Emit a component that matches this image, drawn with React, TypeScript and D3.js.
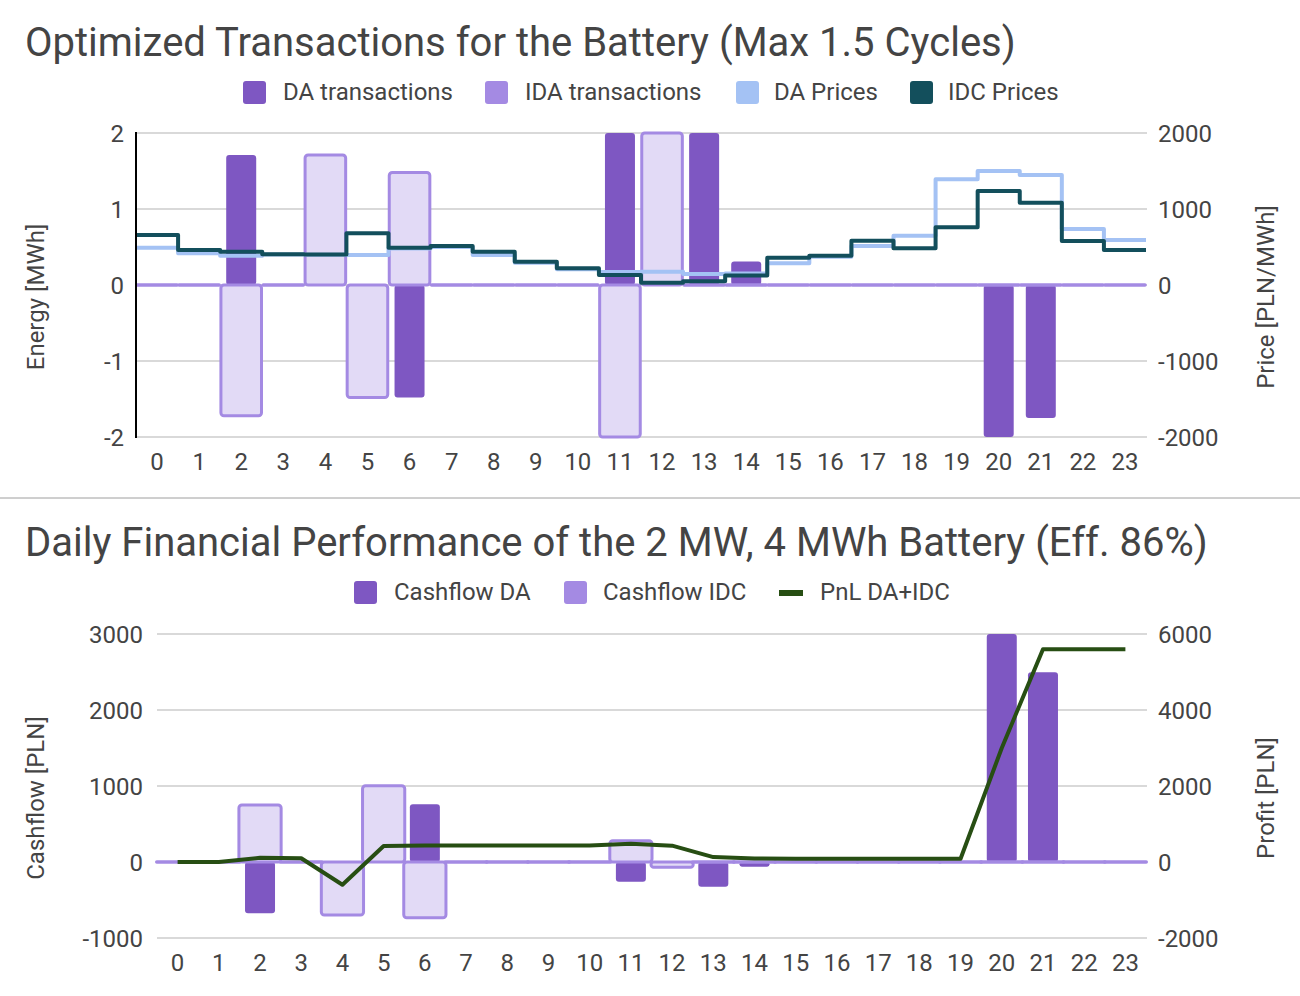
import React from 'react';
import * as d3 from 'd3';

const hours = [0, 1, 2, 3, 4, 5, 6, 7, 8, 9, 10, 11, 12, 13, 14, 15, 16, 17, 18, 19, 20, 21, 22, 23];
const daTransactions = [0, 0, 1.71, 0, 0, 0, -1.48, 0, 0, 0, 0, 2, 0, 2, 0.31, 0, 0, 0, 0, 0, -2, -1.75, 0, 0];
const idaTransactions = [0, 0, -1.72, 0, 1.71, -1.48, 1.48, 0, 0, 0, 0, -2, 2, 0, 0, 0, 0, 0, 0, 0, 0, 0, 0, 0];
const daPrices = [491, 417, 386, 400, 397, 395, 480, 500, 395, 293, 206, 172, 175, 145, 150, 285, 373, 513, 649, 1390, 1500, 1447, 737, 592];
const idcPrices = [658, 460, 438, 403, 400, 680, 491, 513, 438, 307, 219, 132, 28, 50, 125, 360, 386, 583, 482, 759, 1237, 1083, 579, 460];
const cashflowDA = [0, 0, -675, 0, 0, 0, 759, 0, 0, 0, 0, -259, 0, -325, -62, 0, 0, 0, 0, 0, 3000, 2496, 0, 0];
const cashflowIDC = [0, 0, 750, 0, -697, 1004, -733, 0, 0, 0, 0, 281, -70, 0, 0, 0, 0, 0, 0, 0, 0, 0, 0, 0];
const pnl = [0, 0, 110, 100, -600, 420, 435, 435, 435, 435, 435, 480, 430, 130, 95, 85, 85, 85, 85, 85, 3000, 5600, 5600, 5600];

const energyTicks = [-2, -1, 0, 1, 2];
const priceTicks = [-2000, -1000, 0, 1000, 2000];
const cashTicks = [-1000, 0, 1000, 2000, 3000];
const profitTicks = [-2000, 0, 2000, 4000, 6000];

const C_DA = '#7e57c2';
const C_IDA = '#a48ae3';
const C_IDA_FILL = '#e2daf6';
const C_DAP = '#a4c2f4';
const C_IDC = '#134f5c';
const C_PNL = '#274e13';
const TXT = '#444444';
const GRID = '#cccccc';
const FONT = 'Roboto, sans-serif';
const FS = 24;

function stepPath(x: d3.ScaleBand<number>, y: d3.ScaleLinear<number, number>, vals: number[]) {
  const pts: [number, number][] = hours.map((h, i) => [x(h)!, y(vals[i])]);
  pts.push([x(hours[hours.length - 1])! + x.bandwidth(), y(vals[vals.length - 1])]);
  return d3.line().curve(d3.curveStepAfter)(pts) || '';
}

function barRect(
  key: string,
  cx: number,
  w: number,
  y0: number,
  y1: number,
  fill: string,
  stroke?: string,
  sw = 0
) {
  let top = Math.min(y0, y1);
  let h = Math.abs(y1 - y0);
  if (h < 0.5) {
    top = y0 - 0.25;
    h = 0.5;
  }
  return (
    <rect
      key={key}
      x={cx - w / 2}
      y={top}
      width={w}
      height={h}
      rx={Math.min(3, h / 2)}
      fill={fill}
      stroke={stroke || 'none'}
      strokeWidth={sw}
    />
  );
}

export default function App() {
  // Top chart
  const xT = d3.scaleBand<number>().domain(hours).range([136, 1146]).padding(0);
  const yTL = d3.scaleLinear().domain([-2, 2]).range([437, 133]);
  const yTR = d3.scaleLinear().domain([-2000, 2000]).range([437, 133]);
  const bwT = xT.bandwidth();

  // Bottom chart
  const xB = d3.scaleBand<number>().domain(hours).range([157, 1146]).padding(0);
  const yBL = d3.scaleLinear().domain([-1000, 3000]).range([938, 634]);
  const yBR = d3.scaleLinear().domain([-2000, 6000]).range([938, 634]);
  const bwB = xB.bandwidth();

  const pnlLine = d3
    .line<number>()
    .x((_, i) => xB(hours[i])! + bwB / 2)
    .y((v) => yBR(v))(pnl) || '';

  const tickStyle = { fontFamily: FONT, fontSize: FS, fill: TXT } as const;
  const dy = 8.5;

  return (
    <svg
      width={1300}
      height={996}
      style={{ position: 'absolute', left: 0, top: 0, background: '#fff' }}
      fontFamily={FONT}
    >
      <rect x={0} y={0} width={1300} height={996} fill="#fff" />

      {/* ===== TOP CHART ===== */}
      <text x={25} y={56} fontSize={40} fill={TXT}>
        Optimized Transactions for the Battery (Max 1.5 Cycles)
      </text>

      {/* legend */}
      <g fontSize={FS} fill={TXT}>
        <rect x={243} y={81} width={23} height={23} rx={3} fill={C_DA} />
        <text x={283} y={100}>DA transactions</text>
        <rect x={485} y={81} width={23} height={23} rx={3} fill={C_IDA} />
        <text x={525} y={100}>IDA transactions</text>
        <rect x={736} y={81} width={23} height={23} rx={3} fill={C_DAP} />
        <text x={774} y={100}>DA Prices</text>
        <rect x={910} y={81} width={23} height={23} rx={3} fill={C_IDC} />
        <text x={948} y={100}>IDC Prices</text>
      </g>

      {/* grid */}
      {energyTicks.map((t) => (
        <line key={'gt' + t} x1={136} x2={1147} y1={yTL(t)} y2={yTL(t)} stroke={GRID} strokeWidth={1.5} />
      ))}

      {/* ticks */}
      {energyTicks.map((t) => (
        <text key={'lt' + t} x={124} y={yTL(t) + dy} textAnchor="end" {...tickStyle}>
          {t}
        </text>
      ))}
      {priceTicks.map((t) => (
        <text key={'rt' + t} x={1158} y={yTR(t) + dy} textAnchor="start" {...tickStyle}>
          {t}
        </text>
      ))}
      {hours.map((h) => (
        <text key={'xt' + h} x={xT(h)! + bwT / 2} y={470} textAnchor="middle" {...tickStyle}>
          {h}
        </text>
      ))}

      <text transform={`translate(44,297) rotate(-90)`} textAnchor="middle" {...tickStyle}>
        Energy [MWh]
      </text>
      <text transform={`translate(1274,297) rotate(-90)`} textAnchor="middle" {...tickStyle}>
        Price [PLN/MWh]
      </text>

      {/* DA bars */}
      {hours.map((h, i) =>
        daTransactions[i] === 0
          ? barRect('da' + h, xT(h)! + bwT / 2, 30, yTL(0) - 1, yTL(0) + 1, C_DA)
          : barRect('da' + h, xT(h)! + bwT / 2, 30, yTL(0), yTL(daTransactions[i]), C_DA)
      )}
      {/* IDA bars */}
      {hours.map((h, i) =>
        barRect('ida' + h, xT(h)! + bwT / 2, bwT - 1.5, yTL(0), yTL(idaTransactions[i]), C_IDA_FILL, C_IDA, 3)
      )}

      {/* price lines */}
      <path d={stepPath(xT, yTR, daPrices)} fill="none" stroke={C_DAP} strokeWidth={4} strokeLinejoin="round" />
      <path d={stepPath(xT, yTR, idcPrices)} fill="none" stroke={C_IDC} strokeWidth={4} strokeLinejoin="round" />

      {/* left axis line */}
      <line x1={136} x2={136} y1={132} y2={438} stroke="#000" strokeWidth={2} />

      {/* divider */}
      <line x1={0} x2={1300} y1={498} y2={498} stroke="#9e9e9e" strokeWidth={1} />

      {/* ===== BOTTOM CHART ===== */}
      <text x={25} y={556} fontSize={40} fill={TXT}>
        Daily Financial Performance of the 2 MW, 4 MWh Battery (Eff. 86%)
      </text>

      <g fontSize={FS} fill={TXT}>
        <rect x={354} y={581} width={23} height={23} rx={3} fill={C_DA} />
        <text x={394} y={600}>Cashflow DA</text>
        <rect x={564} y={581} width={23} height={23} rx={3} fill={C_IDA} />
        <text x={603} y={600}>Cashflow IDC</text>
        <rect x={779} y={590} width={24} height={6} fill={C_PNL} />
        <text x={820} y={600}>PnL DA+IDC</text>
      </g>

      {cashTicks.map((t) => (
        <line key={'gb' + t} x1={157} x2={1147} y1={yBL(t)} y2={yBL(t)} stroke={GRID} strokeWidth={1.5} />
      ))}
      {cashTicks.map((t) => (
        <text key={'lb' + t} x={143} y={yBL(t) + dy} textAnchor="end" {...tickStyle}>
          {t}
        </text>
      ))}
      {profitTicks.map((t) => (
        <text key={'rb' + t} x={1158} y={yBR(t) + dy} textAnchor="start" {...tickStyle}>
          {t}
        </text>
      ))}
      {hours.map((h) => (
        <text key={'xb' + h} x={xB(h)! + bwB / 2} y={971} textAnchor="middle" {...tickStyle}>
          {h}
        </text>
      ))}
      <text transform={`translate(44,798) rotate(-90)`} textAnchor="middle" {...tickStyle}>
        Cashflow [PLN]
      </text>
      <text transform={`translate(1274,798) rotate(-90)`} textAnchor="middle" {...tickStyle}>
        Profit [PLN]
      </text>

      {hours.map((h, i) =>
        cashflowDA[i] === 0
          ? barRect('cda' + h, xB(h)! + bwB / 2, 30, yBL(0) - 1, yBL(0) + 1, C_DA)
          : barRect('cda' + h, xB(h)! + bwB / 2, 30, yBL(0), yBL(cashflowDA[i]), C_DA)
      )}
      {hours.map((h, i) =>
        barRect('cidc' + h, xB(h)! + bwB / 2, bwB + 1, yBL(0), yBL(cashflowIDC[i]), C_IDA_FILL, C_IDA, 3)
      )}

      <path d={pnlLine} fill="none" stroke={C_PNL} strokeWidth={4} strokeLinejoin="round" />
    </svg>
  );
}
